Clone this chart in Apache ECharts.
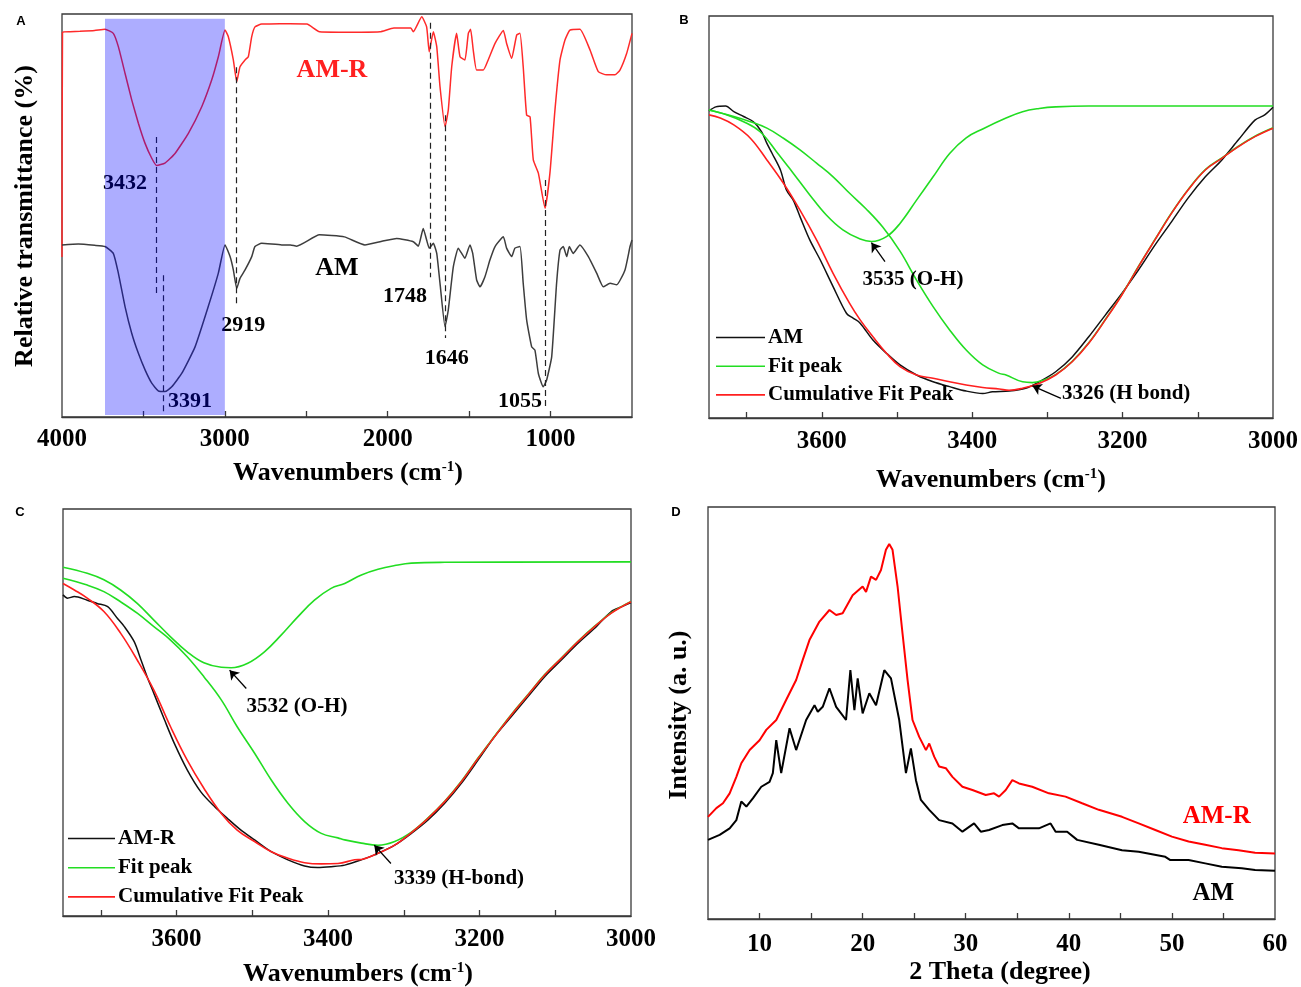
<!DOCTYPE html>
<html><head><meta charset="utf-8">
<script src="https://cdn.jsdelivr.net/npm/echarts@6/dist/echarts.min.js"></script>
<style>html,body{margin:0;padding:0;background:#fff}#c{width:1301px;height:987px}</style>
</head><body><div id="c"></div>
<script>
// ---------- DATA ----------
// Panel A: FTIR spectra [wavenumber cm-1, relative transmittance]
const ftirTicks = [1000,1500,2000,2500,3000,3500];
const ftirLabels = [1000,2000,3000,4000];
const ftirAMR = [[4000,39.7],[3997,95.5],[3950,95.6],[3890,95.7],[3800,95.9],[3736,96.2],[3685,95.2],[3654,91.9],[3613,85.3],[3572,78.7],[3531,72.9],[3490,67.9],[3449,64.2],[3419,62.4],[3368,63.0],[3306,65.4],[3224,70.4],[3142,77.0],[3081,83.6],[3040,89.4],[2999,96.0],[2979,94.4],[2948,88.6],[2927,83.2],[2907,86.9],[2876,88.6],[2856,89.4],[2835,94.4],[2815,96.8],[2774,97.5],[2725,97.5],[2600,97.6],[2496,97.5],[2419,95.6],[2300,95.5],[2164,95.5],[2047,95.6],[1962,96.5],[1858,96.5],[1843,95.6],[1791,99.3],[1761,96.8],[1745,90.6],[1720,95.6],[1699,91.9],[1679,82.0],[1648,72.0],[1628,76.2],[1607,86.9],[1577,95.2],[1556,89.4],[1526,88.6],[1505,95.2],[1491,96.2],[1475,91.1],[1454,86.1],[1413,86.1],[1383,88.6],[1341,92.7],[1290,95.9],[1270,92.7],[1239,89.0],[1208,94.8],[1188,95.2],[1168,86.9],[1147,74.9],[1126,74.5],[1106,63.8],[1075,60.5],[1034,51.8],[1004,60.5],[973,76.2],[942,88.6],[912,93.5],[881,96.0],[820,96.2],[758,91.1],[707,85.7],[656,84.9],[605,84.9],[574,86.1],[533,90.2],[500,95.2]];
const ftirAM = [[4000,42.7],[3900,42.9],[3800,42.6],[3736,42.3],[3685,40.6],[3654,35.7],[3613,27.4],[3572,20.8],[3531,15.8],[3490,11.7],[3449,8.4],[3409,6.5],[3368,6.3],[3326,7.5],[3265,10.8],[3183,17.4],[3102,27.4],[3040,35.7],[2999,42.7],[2968,39.8],[2948,36.5],[2927,31.9],[2907,34.4],[2876,36.5],[2835,39.8],[2815,42.3],[2774,43.1],[2651,42.7],[2597,42.7],[2559,42.4],[2419,45.2],[2266,44.7],[2140,42.7],[2047,43.5],[1945,44.3],[1843,43.5],[1812,42.4],[1782,46.8],[1761,43.9],[1745,41.9],[1720,43.1],[1699,40.6],[1679,33.2],[1648,22.4],[1628,26.6],[1597,37.3],[1567,41.9],[1546,40.6],[1526,39.4],[1495,42.7],[1478,40.6],[1454,34.0],[1433,32.3],[1403,34.8],[1372,39.0],[1341,42.3],[1290,44.7],[1270,41.9],[1239,39.8],[1219,41.9],[1188,42.3],[1168,33.2],[1147,24.1],[1116,17.4],[1096,16.6],[1075,10.8],[1045,7.5],[1024,9.2],[993,15.0],[963,33.2],[942,41.4],[922,42.3],[901,39.8],[885,42.3],[861,40.6],[820,42.7],[768,39.8],[717,35.7],[676,32.3],[635,33.2],[594,32.8],[543,36.5],[512,42.3],[500,43.9]];
// dashed peak guides: [wavenumber, yTop, yBottom]
const ftirPeakGuides = [[3419,69.5,30.8],[3378,35.2,0.5],[2927,86.8,27.3],[1740,97.8,34.7],[1648,74.9,19.6],[1034,58.8,2.2]];
const ftirPeakNames = ['3432','3391','2919','1748','1646','1055'];
const shadedBand = [3736, 3000];
const shadedY = [0.5, 98.8];

// Panels B, C: peak fitting
const fitTicks = [3100,3200,3300,3400,3500,3600,3700];
const fitLabels = [3000,3200,3400,3600];
const fitB_AM = [[3750,76.4],[3741,77.4],[3728,77.6],[3717,76.2],[3704,75.0],[3691,73.7],[3680,71.2],[3673,68.3],[3666,65.8],[3655,61.7],[3647,56.7],[3638,54.2],[3629,50.1],[3616,44.3],[3602,39.3],[3585,32.7],[3567,26.0],[3558,24.8],[3549,23.6],[3532,19.4],[3514,16.1],[3496,13.2],[3474,10.7],[3452,9.0],[3430,7.8],[3408,6.7],[3386,6.1],[3373,6.5],[3351,6.7],[3329,7.4],[3311,9.0],[3289,11.5],[3267,15.2],[3245,20.2],[3223,25.6],[3201,31.0],[3179,36.8],[3157,43.0],[3135,48.8],[3113,54.7],[3090,60.0],[3068,64.2],[3046,69.2],[3024,74.1],[3011,75.4],[3000,77.3]];
const fitB_OH = [[3750,76.6],[3726,75.4],[3704,73.7],[3682,71.2],[3660,66.2],[3638,60.9],[3616,55.5],[3594,50.5],[3572,46.8],[3549,44.5],[3534,43.9],[3514,45.1],[3496,48.4],[3474,54.2],[3452,60.0],[3430,65.8],[3408,69.7],[3386,71.9],[3355,74.6],[3333,76.2],[3311,77.0],[3289,77.4],[3245,77.6],[3000,77.6]];
const fitB_Hbond = [[3750,76.6],[3717,75.0],[3695,73.7],[3673,72.1],[3651,69.6],[3629,66.7],[3607,63.4],[3585,60.0],[3563,55.9],[3541,52.0],[3519,47.5],[3496,41.5],[3474,34.3],[3452,27.7],[3430,21.9],[3408,16.9],[3386,13.2],[3364,11.1],[3355,10.7],[3333,9.0],[3320,8.8],[3307,9.3],[3289,10.8],[3267,14.1],[3245,18.7],[3223,24.5],[3201,30.7],[3179,37.7],[3157,44.4],[3135,51.0],[3113,56.8],[3090,61.8],[3068,64.7],[3046,67.6],[3024,70.1],[3000,72.2]];
const fitB_Cum = [[3750,75.4],[3735,74.6],[3717,72.9],[3695,69.6],[3673,64.2],[3651,58.4],[3629,51.7],[3607,44.3],[3585,36.0],[3563,28.5],[3549,24.4],[3532,20.2],[3514,16.1],[3496,12.8],[3474,10.7],[3452,9.9],[3430,9.0],[3408,8.2],[3386,7.6],[3364,7.2],[3351,6.9],[3333,7.4],[3311,8.6],[3289,10.7],[3267,14.0],[3245,18.6],[3223,24.4],[3201,30.6],[3179,37.6],[3157,44.3],[3135,50.9],[3113,56.7],[3090,61.7],[3068,64.6],[3046,67.5],[3024,70.0],[3000,72.1]];
const fitB_arrows = [[[3516,38.9],[3534,43.6]],[[3282,4.9],[3320,8.0]]];

const fitC_AMR = [[3750,78.9],[3744,78.1],[3735,78.5],[3718,77.6],[3705,76.8],[3691,76.0],[3678,73.1],[3669,71.1],[3656,67.4],[3647,62.9],[3639,58.8],[3630,54.7],[3616,48.2],[3603,42.4],[3586,35.9],[3568,30.5],[3550,26.9],[3533,24.0],[3515,21.1],[3497,18.7],[3475,15.8],[3453,13.8],[3431,12.3],[3414,11.9],[3396,12.1],[3378,12.5],[3356,13.8],[3334,15.4],[3312,17.4],[3290,20.3],[3268,23.6],[3246,27.7],[3224,32.6],[3202,38.3],[3180,44.1],[3158,49.0],[3136,53.9],[3114,58.8],[3092,62.9],[3070,67.0],[3048,70.7],[3026,74.8],[3012,76.0],[3000,77.0]];
const fitC_OH = [[3750,85.7],[3718,84.2],[3696,82.6],[3674,80.1],[3652,76.8],[3630,72.7],[3608,68.6],[3586,64.9],[3564,62.2],[3541,61.1],[3528,61.0],[3506,62.1],[3484,64.9],[3462,69.0],[3440,73.5],[3418,77.6],[3396,80.5],[3378,81.7],[3356,83.8],[3334,85.2],[3312,86.1],[3290,86.7],[3246,86.9],[3000,87.0]];
const fitC_Hbond = [[3750,83.0],[3718,81.3],[3696,79.7],[3674,77.2],[3652,74.4],[3630,71.1],[3608,67.8],[3586,63.7],[3564,58.8],[3541,53.1],[3520,46.5],[3497,40.0],[3475,33.4],[3453,27.7],[3431,23.2],[3409,20.3],[3387,19.2],[3378,18.7],[3356,17.9],[3334,17.4],[3312,18.3],[3290,20.6],[3268,24.1],[3246,28.2],[3224,33.1],[3202,38.8],[3180,44.2],[3158,49.5],[3136,54.4],[3114,59.3],[3092,63.4],[3070,67.5],[3048,71.2],[3026,74.5],[3000,77.3]];
const fitC_Cum = [[3750,81.7],[3735,80.1],[3718,78.1],[3696,74.8],[3674,69.5],[3652,62.9],[3630,55.5],[3608,46.5],[3586,38.3],[3564,31.4],[3541,25.2],[3520,21.1],[3497,18.3],[3475,15.8],[3453,14.2],[3431,13.1],[3409,12.8],[3387,12.9],[3365,13.8],[3356,13.9],[3334,15.4],[3312,17.4],[3290,20.5],[3268,24.0],[3246,28.1],[3224,33.0],[3202,38.7],[3180,44.1],[3158,49.4],[3136,54.3],[3114,59.2],[3092,63.3],[3070,67.4],[3048,71.1],[3026,74.4],[3000,77.2]];
const fitC_arrows = [[[3508,55.9],[3530,60.4]],[[3317,12.9],[3339,17.4]]];

// Panel D: XRD [2theta, intensity]
const xrdTicks = [10,15,20,25,30,35,40,45,50,55];
const xrdLabels = [10,20,30,40,50,60];
const xrdAMR = [[5,24.8],[5.81,26.9],[6.45,28.1],[7.10,30.5],[7.75,34.5],[8.23,37.8],[9.04,41.0],[10.0,43.4],[10.65,45.9],[11.62,48.3],[12.59,53.2],[13.55,58.0],[14.19,62.9],[14.84,67.7],[15.81,72.2],[16.78,75.0],[17.43,73.8],[18.06,74.2],[19.03,78.6],[20.0,80.7],[20.33,79.4],[20.81,83.1],[21.30,82.3],[21.78,84.7],[22.26,89.6],[22.58,91.0],[22.90,89.6],[23.39,80.7],[23.87,69.3],[24.36,58.0],[24.84,48.3],[25.49,44.2],[26.14,41.0],[26.46,42.6],[26.94,39.4],[27.42,37.0],[28.07,36.6],[28.71,34.5],[29.68,32.1],[30.65,31.3],[31.94,30.1],[32.75,30.5],[33.23,29.7],[33.88,31.3],[34.52,33.7],[35.17,32.9],[36.45,32.1],[38.07,30.5],[39.68,29.7],[41.29,28.1],[42.91,26.5],[45.16,24.8],[46.78,23.2],[48.39,21.6],[50.0,20.0],[51.62,18.8],[53.23,18.0],[54.84,17.2],[56.46,16.7],[58.07,16.1],[60,15.9]];
const xrdAM = [[5,19.2],[6.13,20.4],[7.10,22.0],[7.75,24.0],[8.23,28.5],[8.72,27.3],[9.35,29.3],[10.17,32.1],[10.97,33.3],[11.29,35.4],[11.62,43.4],[12.10,35.4],[12.91,46.3],[13.55,41.0],[14.52,48.3],[15.33,51.9],[15.65,50.3],[16.13,51.5],[16.78,56.0],[17.43,51.5],[17.91,49.9],[18.39,48.3],[18.81,60.4],[19.20,50.7],[19.52,58.4],[20.0,49.9],[20.65,54.8],[21.30,51.9],[22.10,60.4],[22.75,58.4],[23.55,48.3],[24.20,35.4],[24.68,41.4],[25.17,33.7],[25.65,28.9],[26.46,26.5],[27.42,24.0],[28.71,23.2],[29.68,21.2],[30.81,23.2],[31.46,21.2],[32.26,21.6],[33.55,22.8],[34.52,23.2],[35.17,22.0],[37.10,22.0],[38.23,23.2],[38.72,21.2],[39.84,21.2],[40.81,19.2],[42.91,18.0],[45.16,16.7],[46.78,16.3],[49.36,15.1],[49.85,14.3],[51.62,14.3],[53.23,13.5],[54.84,12.7],[56.78,12.3],[58.07,11.9],[60,11.7]];

// ---------- CHART ----------
const SERIF = '"Liberation Serif","Times New Roman",serif';
const FRAME = '#3a3a3a';
const GREEN = '#22dd22', RED = '#ff1f1f';

function grid(left, top, width, height) {
  return {left, top, width, height, show: true, borderColor: FRAME, borderWidth: 1.3, backgroundColor: 'transparent', containLabel: false};
}
function xAxis(gi, min, max, inverse, ticks, labels, margin) {
  return {type: 'value', gridIndex: gi, min, max, inverse,
    axisLine: {show: true, onZero: false, lineStyle: {color: FRAME, width: 1.3}},
    axisTick: {show: true, inside: true, length: 6, customValues: ticks, lineStyle: {color: FRAME, width: 1.3}},
    axisLabel: {show: true, customValues: labels, margin, formatter: v => String(v),
      color: '#000', fontFamily: SERIF, fontWeight: 'bold', fontSize: 25},
    splitLine: {show: false}};
}
function yAxis(gi) {
  return {type: 'value', gridIndex: gi, min: 0, max: 100,
    axisLine: {show: false}, axisTick: {show: false}, axisLabel: {show: false}, splitLine: {show: false}};
}
function line(name, gi, data, color, width, smooth, extra) {
  return Object.assign({type: 'line', name, xAxisIndex: gi, yAxisIndex: gi, data,
    symbol: 'none', showSymbol: false, smooth: smooth,
    lineStyle: {color, width}, itemStyle: {color}, silent: true, animation: false, z: 2}, extra || {});
}
function arrows(list) {
  return {silent: true, symbol: ['none', 'arrow'], symbolSize: 9, animation: false,
    lineStyle: {color: '#000', width: 1.3, type: 'solid'}, label: {show: false},
    data: list.map(a => [{coord: a[0]}, {coord: a[1]}])};
}
function txt(text, x, y, size, color, extra) {
  return Object.assign({type: 'text', x, y, z: 3, silent: true,
    style: {text, fill: color || '#000', fontSize: size, fontFamily: SERIF, fontWeight: 'bold', align: 'center', verticalAlign: 'middle'}}, extra || {});
}
function cmTitle(x, y) {
  return {type: 'text', x, y, z: 3, silent: true,
    style: {text: '{a|Wavenumbers (cm}{b|-1}{a|)}', align: 'center', verticalAlign: 'middle',
      rich: {a: {fontSize: 26, fontFamily: SERIF, fontWeight: 'bold', fill: '#000'},
             b: {fontSize: 15, fontFamily: SERIF, fontWeight: 'bold', fill: '#000', verticalAlign: 'top'}}}};
}
function letter(t, x, y) {
  return {type: 'text', x, y, z: 3, silent: true,
    style: {text: t, fill: '#000', fontSize: 13, fontFamily: '"Liberation Sans", Arial, sans-serif', fontWeight: 'bold', align: 'center', verticalAlign: 'middle'}};
}

const guideLines = {silent: true, symbol: ['none', 'none'], animation: false,
  lineStyle: {color: '#222', width: 1.2, type: [6, 4]}, label: {show: false},
  data: ftirPeakGuides.map(g => [{coord: [g[0], g[1]]}, {coord: [g[0], g[2]]}])};

const legendBase = {orient: 'vertical', icon: 'rect', itemHeight: 1.6, padding: 0, selectedMode: false,
  textStyle: {fontFamily: SERIF, fontWeight: 'bold', fontSize: 21, color: '#000', padding: [0, 0, 0, -2]}};

const chart = echarts.init(document.getElementById('c'), null, {renderer: 'canvas'});
chart.setOption({
  animation: false,
  backgroundColor: '#fff',
  grid: [grid(62, 14, 570, 403), grid(709, 16, 566, 402), grid(63, 509, 568, 407), grid(708, 507, 567, 412)],
  xAxis: [
    xAxis(0, 500, 4000, true, ftirTicks, ftirLabels, 10),
    xAxis(1, 3000, 3750, true, fitTicks, fitLabels, 11),
    xAxis(2, 3000, 3750, true, fitTicks, fitLabels, 11),
    xAxis(3, 5, 60, false, xrdTicks, xrdLabels, 13)
  ],
  yAxis: [yAxis(0), yAxis(1), yAxis(2), yAxis(3)],
  legend: [
    Object.assign({data: ['AM', 'Fit peak', 'Cumulative Fit Peak'], left: 716, top: 327, itemWidth: 49, itemGap: 7.7}, legendBase),
    Object.assign({data: ['AM-R', 'Fit peak', 'Cumulative Fit Peak'], left: 68, top: 828, itemWidth: 47, itemGap: 8.2}, legendBase)
  ],
  series: [
    // B
    line('AM', 1, fitB_AM, '#111', 1.5, 0.3),
    line('Fit peak', 1, fitB_OH, GREEN, 1.6, 0.4, {markLine: arrows(fitB_arrows)}),
    line('Fit peak', 1, fitB_Hbond, GREEN, 1.6, 0.4),
    line('Cumulative Fit Peak', 1, fitB_Cum, RED, 1.6, 0.4),
    // C
    line('AM-R', 2, fitC_AMR, '#111', 1.5, 0.3),
    line('Fit peak', 2, fitC_OH, GREEN, 1.6, 0.4, {markLine: arrows(fitC_arrows)}),
    line('Fit peak', 2, fitC_Hbond, GREEN, 1.6, 0.4),
    line('Cumulative Fit Peak', 2, fitC_Cum, RED, 1.6, 0.4),
    // A
    line('AM-R', 0, ftirAMR, '#ff2a2a', 1.5, 0.15, {
      markArea: {silent: true, z: 10, animation: false, label: {show: false},
        itemStyle: {color: 'rgba(0,0,255,0.32)', borderWidth: 0},
        data: [[{coord: [shadedBand[0], shadedY[0]]}, {coord: [shadedBand[1], shadedY[1]]}]]}}),
    line('AM', 0, ftirAM, '#3d3d3d', 1.5, 0.15, {markLine: guideLines}),
    // D
    line('AM-R', 3, xrdAMR, '#ff0000', 2, false),
    line('AM', 3, xrdAM, '#000', 2, false)
  ],
  graphic: {elements: [
    letter('A', 21, 21), letter('B', 684, 20.5), letter('C', 20, 512), letter('D', 676, 512.5),
    cmTitle(348, 473), cmTitle(991, 480), cmTitle(358, 974),
    txt('2 Theta (degree)', 1000, 972, 26),
    txt('Relative transmittance (%)', 25, 216, 26, '#000', {rotation: Math.PI / 2}),
    txt('Intensity (a. u.)', 679, 715, 26, '#000', {rotation: Math.PI / 2}),
    // panel A annotations
    txt(ftirPeakNames[0], 125, 183.3, 22), txt(ftirPeakNames[1], 190, 401.7, 22),
    txt(ftirPeakNames[2], 243.3, 325, 22), txt(ftirPeakNames[3], 405, 296.7, 22),
    txt(ftirPeakNames[4], 446.7, 358.3, 22), txt(ftirPeakNames[5], 520, 401.7, 22),
    txt('AM-R', 332, 70.5, 26, '#ff2020'), txt('AM', 337, 268, 26, '#000'),
    // panel B
    txt('3535 (O-H)', 913, 280, 21),
    {type: 'text', x: 1062, y: 393.3, z: 3, silent: true,
     style: {text: '3326 (H bond)', fill: '#000', fontSize: 21, fontFamily: SERIF, fontWeight: 'bold', align: 'left', verticalAlign: 'middle'}},
    // panel C
    txt('3532 (O-H)', 297, 706.7, 21),
    txt('3339 (H-bond)', 459, 878.3, 21),
    // panel D
    txt('AM-R', 1216.7, 816.7, 25, '#ff0000'), txt('AM', 1213.3, 893.3, 25, '#000')
  ]}
});
</script>
</body></html>
